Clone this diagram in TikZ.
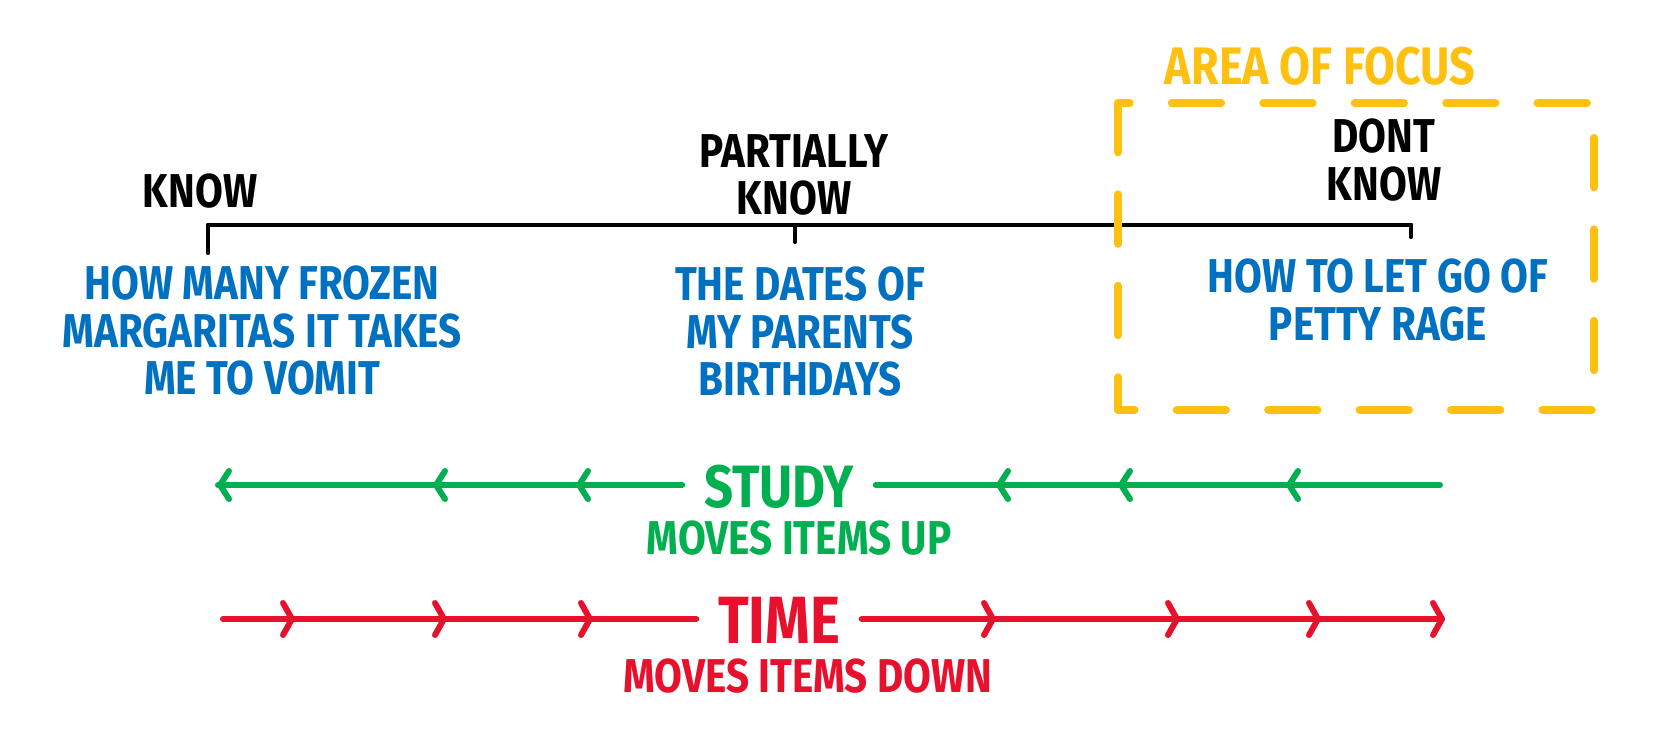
\documentclass[tikz,border=0pt]{standalone}
\usepackage{fontspec}
\setmainfont{Fira Sans}[FakeStretch=0.85]
\usepackage{xcolor}
\usepackage{tikz}
\definecolor{itemblue}{HTML}{0070C0}
\definecolor{studygreen}{HTML}{00B050}
\definecolor{timered}{HTML}{E8112D}
\definecolor{focusorange}{HTML}{FFC010}

\begin{document}
\begin{tikzpicture}
				[x= 0.01cm, y= -0.01cm, line cap= round, line join= round,
				every node/.style = {inner sep= 0pt, font=\bfseries\fontsize{13.5}{13.5}\selectfont},
				levellabel/.style = {text=black, align= center},
				axisline/.style = {line width= 1.2pt, black},
				item/.style = {text=itemblue, align= center},
				focusbox/.style = {line width= 2.3pt, focusorange, dash pattern= on 14pt off 12pt},
				studyline/.style = {line width= 1.7pt, studygreen},
				timeline/.style = {line width= 1.7pt, timered}]
				\useasboundingbox (0,0) rectangle (1666,742);
				% knowledge scale
				\node[levellabel] (know) at (200,191) {KNOW};
				\node[levellabel] (partly) at (794,175) {PARTIALLY\\KNOW};
				\node[levellabel] (dontknow) at (1384,160) {DONT\\KNOW};
				\coordinate (kL) at (208,225);
				\coordinate (kM) at (795,225);
				\coordinate (kR) at (1411,225);
				\draw[axisline] (kL)--(kR);
				\draw[axisline] (kL)--++(0,28);
				\draw[axisline] (kM)--++(0,17);
				\draw[axisline] (kR)--++(0,12);
				\node[item] (margaritas) at (262,331) {HOW MANY FROZEN\\MARGARITAS IT TAKES\\ME TO VOMIT};
				\node[item] (birthdays) at (800,332) {THE DATES OF\\MY PARENTS\\BIRTHDAYS};
				\node[item] (pettyrage) at (1378,300) {HOW TO LET GO OF\\PETTY RAGE};
				% area of focus
				\draw[focusbox] (1118,103) rectangle (1594,410);
				\node[text=focusorange, font=\bfseries\fontsize{15}{15}\selectfont] (focus) at (1320,66) {AREA OF FOCUS};
				% study
				\node[text=studygreen, inner xsep= 6pt, font=\bfseries\fontsize{17}{17}\selectfont] (study) at (779,487) {STUDY};
				\node[text=studygreen] (up) at (799,538) {MOVES ITEMS UP};
				\coordinate (sL) at (218,485);
				\coordinate (sR) at (1440,485);
				\draw[studyline] (sR)--(study.east |- sR);
				\draw[studyline] (study.west |- sL)--(sL);
				\foreach \x in {220,436,579,999,1121,1289}
					\draw[studyline] (\x+9,471)--(\x,485)--(\x+9,499);
				% time
				\node[text=timered, inner xsep= 6pt, font=\bfseries\fontsize{19}{19}\selectfont] (time) at (779,620) {TIME};
				\node[text=timered] (down) at (808,676) {MOVES ITEMS DOWN};
				\coordinate (tL) at (223,619);
				\coordinate (tR) at (1442,619);
				\draw[timeline] (tL)--(time.west |- tL);
				\draw[timeline] (time.east |- tR)--(tR);
				\foreach \x in {292,444,590,993,1177,1318,1442}
					\draw[timeline] (\x-9,603)--(\x,619)--(\x-9,635);
			\end{tikzpicture}
\end{document}
